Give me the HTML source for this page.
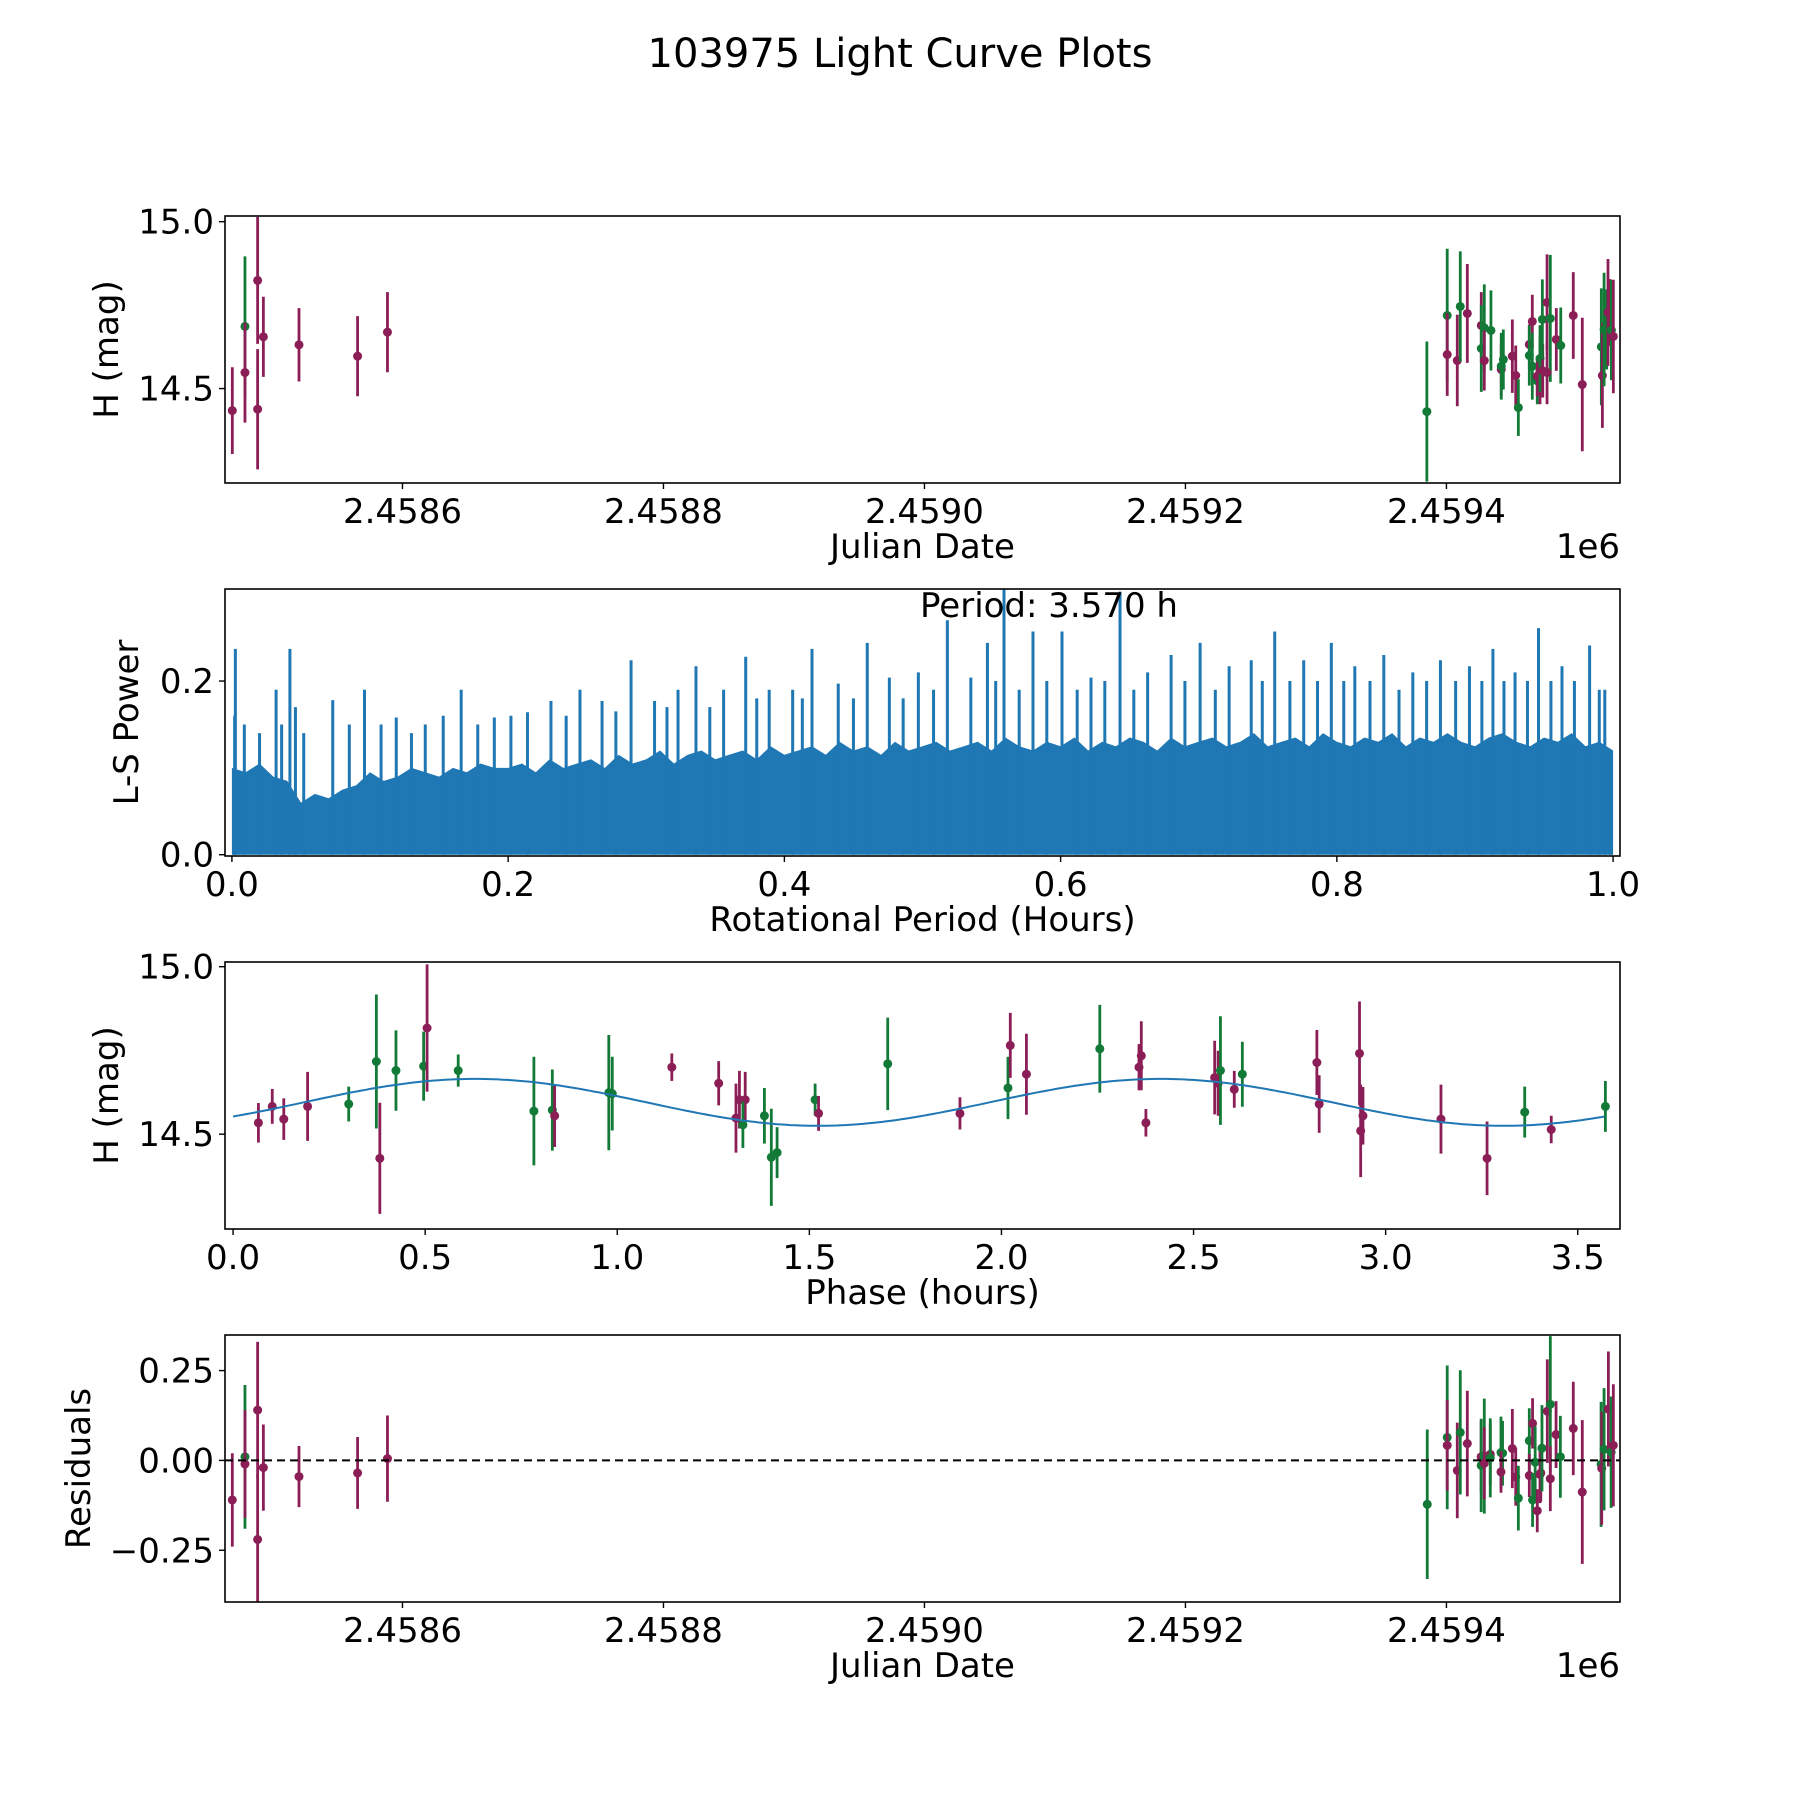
<!DOCTYPE html>
<html><head><meta charset="utf-8"><style>
html,body{margin:0;padding:0;background:#fff;}
svg{display:block;font-family:"DejaVu Sans","Liberation Sans",sans-serif;}
</style></head><body>
<svg id="fig" width="1800" height="1800" viewBox="0 0 1800 1800" xmlns="http://www.w3.org/2000/svg">
<rect x="0" y="0" width="1800" height="1800" fill="#fff"/>
<text x="900" y="67" font-size="40" text-anchor="middle">103975 Light Curve Plots</text>
</svg>
<script>
// ---------- data (JD offsets are days relative to 2459000) ----------
const lcJd    = [-530.4,-520.7,-520.7,-511,-511,-506.6,-479.3,-434.4,-411.5,
  385.0,400.6,400.6,408.3,410.6,416.0,426.7,429.0,426.7,429.0,434.1,442.0,442.0,443.6,450.5,453.1,455.1,463.5,463.5,465.8,465.8,469.6,469.6,471.7,471.7,473.8,473.5,477.1,479.6,477.1,484.2,487.6,497.2,504.1,518.7,519.5,520.8,522.8,523.8,525.4,526.4,527.9];
const lcMag   = [14.434,14.686,14.548,14.824,14.438,14.655,14.631,14.597,14.669,
  14.431,14.719,14.602,14.584,14.746,14.725,14.689,14.682,14.62,14.584,14.674,14.557,14.567,14.587,14.597,14.539,14.443,14.632,14.599,14.701,14.567,14.523,14.537,14.553,14.59,14.553,14.707,14.758,14.71,14.548,14.647,14.629,14.719,14.512,14.625,14.539,14.677,14.677,14.728,14.728,14.675,14.656];
const lcErr   = [0.13,0.21,0.15,0.19,0.18,0.12,0.11,0.12,0.12,
  0.21,0.20,0.124,0.137,0.165,0.148,0.10,0.13,0.13,0.09,0.12,0.08,0.10,0.09,0.11,0.09,0.085,0.06,0.09,0.08,0.10,0.07,0.06,0.10,0.10,0.08,0.12,0.144,0.19,0.095,0.094,0.114,0.13,0.20,0.175,0.157,0.17,0.12,0.16,0.10,0.15,0.17];
const lcBand  = ['p','g','p','p','p','p','p','p','p',
  'g','g','p','p','g','p','p','g','g','p','g','p','g','g','p','p','g','p','g','p','g','g','p','p','g','p','g','p','g','p','p','g','p','p','g','p','g','g','p','p','g','p'];

const resJd   = [-530.4,-520.7,-520.7,-511,-511,-506.6,-479.3,-434.4,-411.5,
  385.3,400.6,400.6,408.3,410.6,416.0,426.6,426.6,429.0,429.0,433.6,433.6,441.8,443.0,441.8,450.5,453.1,455.1,463.5,463.5,466.0,466.0,468.0,469.6,471.7,472.3,473.2,477.3,479.6,479.6,484.0,487.3,497.2,504.1,518.5,519.0,520.8,524.1,526.2,527.9];
const resVal  = [-0.11,0.01,-0.01,0.14,-0.22,-0.02,-0.045,-0.035,0.005,
  -0.122,0.064,0.042,-0.028,0.078,0.047,0.01,-0.014,0.012,-0.008,0.017,0.007,0.022,0.02,-0.032,0.033,-0.046,-0.105,0.055,-0.042,0.103,-0.11,-0.005,-0.14,-0.039,-0.035,0.034,0.137,0.156,-0.051,0.072,0.01,0.089,-0.088,-0.011,-0.022,0.031,0.143,0.023,0.042];
const resErr  = [0.13,0.2,0.15,0.19,0.18,0.12,0.085,0.1,0.12,
  0.208,0.2,0.126,0.133,0.173,0.147,0.1,0.13,0.16,0.1,0.085,0.11,0.1,0.09,0.058,0.11,0.08,0.09,0.09,0.06,0.07,0.075,0.1,0.06,0.08,0.08,0.12,0.144,0.19,0.09,0.093,0.114,0.13,0.2,0.174,0.157,0.17,0.16,0.155,0.17];
const resBand = ['p','g','p','p','p','p','p','p','p',
  'g','g','p','p','g','p','p','g','g','p','p','g','g','g','p','p','p','g','g','p','p','g','g','p','p','p','g','p','g','p','p','g','p','p','g','p','g','p','g','p'];

const phHours = [0.066,0.102,0.132,0.194,0.301,0.373,0.382,0.424,0.496,0.505,0.586,0.783,0.831,0.837,0.978,0.987,1.142,1.264,1.309,1.318,1.333,1.327,1.383,1.401,1.416,1.515,1.524,1.704,1.892,2.017,2.023,2.065,2.256,2.358,2.364,2.376,2.555,2.564,2.570,2.606,2.627,2.821,2.827,2.932,2.935,2.941,3.144,3.264,3.362,3.431,3.572];
const phMag   = [14.534,14.583,14.545,14.583,14.59,14.717,14.428,14.69,14.703,14.817,14.69,14.569,14.572,14.555,14.624,14.621,14.7,14.652,14.548,14.603,14.603,14.528,14.555,14.431,14.445,14.603,14.562,14.71,14.562,14.638,14.765,14.679,14.755,14.7,14.734,14.534,14.669,14.652,14.69,14.634,14.679,14.714,14.59,14.741,14.51,14.555,14.545,14.428,14.566,14.514,14.583];
const phErr   = [0.059,0.052,0.062,0.103,0.052,0.2,0.166,0.12,0.103,0.19,0.048,0.162,0.121,0.093,0.172,0.11,0.041,0.066,0.103,0.086,0.083,0.069,0.083,0.145,0.076,0.048,0.052,0.138,0.048,0.093,0.097,0.121,0.131,0.069,0.103,0.041,0.11,0.097,0.162,0.055,0.097,0.097,0.086,0.155,0.138,0.086,0.103,0.11,0.076,0.041,0.076];
const phBand  = ['p','p','p','p','g','g','p','g','g','p','g','g','g','p','g','g','p','p','p','p','p','g','g','g','g','g','p','g','p','g','p','p','g','p','p','p','p','p','g','p','g','p','p','p','p','p','p','p','g','p','g'];
const fitMean = 14.595, fitAmp = 0.07, fitPeakPhase = 0.63, fitCycle = 1.785;
const phaseMax = 3.57;

// periodogram band top sampled every 0.01 h (0.00 .. 1.00)
const lsBandTop = [0.10,0.095,0.105,0.09,0.085,0.06,0.07,0.065,0.075,0.08,
  0.095,0.085,0.09,0.1,0.095,0.09,0.1,0.095,0.105,0.1,
  0.1,0.105,0.095,0.11,0.1,0.105,0.11,0.1,0.115,0.105,
  0.11,0.12,0.105,0.115,0.12,0.11,0.115,0.12,0.11,0.125,
  0.115,0.12,0.125,0.115,0.13,0.12,0.125,0.115,0.13,0.12,
  0.125,0.13,0.12,0.125,0.13,0.12,0.135,0.125,0.12,0.13,
  0.125,0.135,0.12,0.13,0.125,0.135,0.13,0.12,0.135,0.125,
  0.13,0.135,0.125,0.13,0.14,0.125,0.13,0.135,0.125,0.14,
  0.13,0.125,0.135,0.13,0.14,0.125,0.135,0.13,0.14,0.13,
  0.125,0.135,0.14,0.13,0.125,0.135,0.13,0.14,0.125,0.13,0.12];
const lsSpikeP = [0.0025,0.002,0.009,0.02,0.032,0.036,0.042,0.046,0.052,0.073,0.085,0.096,0.108,0.119,0.13,0.14,0.153,0.166,0.178,0.19,0.202,0.214,0.231,0.242,0.252,0.268,0.278,0.289,0.306,0.315,0.323,0.336,0.346,0.356,0.372,0.38,0.389,0.406,0.413,0.42,0.439,0.45,0.46,0.476,0.486,0.497,0.508,0.518,0.535,0.547,0.553,0.559,0.57,0.58,0.59,0.601,0.612,0.622,0.632,0.643,0.653,0.663,0.68,0.69,0.701,0.712,0.722,0.738,0.746,0.755,0.766,0.776,0.786,0.796,0.805,0.813,0.824,0.834,0.845,0.855,0.865,0.875,0.886,0.896,0.905,0.913,0.921,0.929,0.938,0.946,0.955,0.963,0.972,0.983,0.99,0.994,0.998];
const lsSpikePow = [0.237,0.16,0.15,0.14,0.19,0.15,0.237,0.17,0.14,0.178,0.15,0.19,0.15,0.158,0.14,0.15,0.16,0.19,0.15,0.158,0.16,0.164,0.177,0.16,0.19,0.177,0.165,0.224,0.177,0.17,0.19,0.217,0.17,0.19,0.228,0.18,0.19,0.19,0.18,0.237,0.197,0.18,0.244,0.204,0.18,0.21,0.19,0.27,0.204,0.244,0.2,0.306,0.19,0.257,0.2,0.257,0.19,0.204,0.2,0.303,0.19,0.21,0.23,0.2,0.244,0.19,0.217,0.224,0.2,0.257,0.2,0.224,0.2,0.244,0.2,0.217,0.2,0.23,0.19,0.21,0.2,0.224,0.2,0.217,0.2,0.237,0.2,0.21,0.2,0.261,0.2,0.217,0.2,0.241,0.19,0.19,0.12];

const jdTicks = [-400,-200,0,200,400];
const jdTickLabels = ['2.4586','2.4588','2.4590','2.4592','2.4594'];
const magTicks = [15.0,14.5], magTickLabels = ['15.0','14.5'];
const lsXTicks = [0,0.2,0.4,0.6,0.8,1.0], lsXLabels = ['0.0','0.2','0.4','0.6','0.8','1.0'];
const lsYTicks = [0,0.2], lsYLabels = ['0.0','0.2'];
const phXTicks = [0,0.5,1,1.5,2,2.5,3,3.5], phXLabels = ['0.0','0.5','1.0','1.5','2.0','2.5','3.0','3.5'];
const resYTicks = [0.25,0,-0.25], resYLabels = ['0.25','0.00','\u22120.25'];

// ---------- drawing ----------
const NS='http://www.w3.org/2000/svg';
const svg=document.getElementById('fig');
const COL={p:'#8b1e56',g:'#127a36'};
const L=225,R=1620,H=267,FS=34;
function mk(tag,attrs,parent){const e=document.createElementNS(NS,tag);for(const k in attrs)e.setAttribute(k,attrs[k]);(parent||svg).appendChild(e);return e;}
function lin(d0,d1,r0,r1){return v=>r0+(v-d0)/(d1-d0)*(r1-r0);}

function axesFrame(g,top,name){
  const f=mk('rect',{x:L,y:top,width:R-L,height:H,fill:'none',stroke:'#000','stroke-width':1.6},g);
  
  
}
function xTicks(g,top,sx,ticks,labels,name){
  ticks.forEach((t,i)=>{const x=sx(t);
    const l=mk('line',{x1:x,x2:x,y1:top+H,y2:top+H+6,stroke:'#000','stroke-width':1.4},g);
    
    
    const tx=mk('text',{x:x,y:top+H+40,'font-size':FS,'text-anchor':'middle'},g);tx.textContent=labels[i];
    
    
  });
}
function yTicks(g,top,sy,ticks,labels,name){
  ticks.forEach((t,i)=>{const y=sy(t);
    const l=mk('line',{x1:L-6,x2:L,y1:y,y2:y,stroke:'#000','stroke-width':1.4},g);
    
    
    const tx=mk('text',{x:L-11,y:y+12,'font-size':FS,'text-anchor':'end'},g);tx.textContent=labels[i];
    
    
  });
}
function labels(g,top,xl,yl,ylx,name){
  const a=mk('text',{x:(L+R)/2,y:top+H+75,'font-size':FS,'text-anchor':'middle'},g);a.textContent=xl;
  
  
  const cy=top+H/2;
  const b=mk('text',{x:ylx,y:cy,'font-size':FS,'text-anchor':'middle',transform:`rotate(-90 ${ylx} ${cy})`},g);b.textContent=yl;
  
  
}
function errPoints(g,xs,ys,es,bands,sx,sy,name){
  xs.forEach((xv,i)=>{const x=sx(xv),c=COL[bands[i]];
    const l=mk('line',{x1:x,x2:x,y1:sy(ys[i]-es[i]),y2:sy(ys[i]+es[i]),stroke:c,'stroke-width':2.8},g);
    
    
    const d=mk('circle',{cx:x,cy:sy(ys[i]),r:4.5,fill:c},g);
    
    
  });
}
function clip(id,top){const cp=mk('clipPath',{id:id});mk('rect',{x:L,y:top,width:R-L,height:H},cp);}

// Panel 1: light curve
(function(){
  const top=216;const g=mk('g',{});
  const sx=lin(-536,533,L,R), sy=lin(14.217,15.017,top+H,top);
  clip('c1',top);
  const pg=mk('g',{'clip-path':'url(#c1)'},g);
  errPoints(pg,lcJd,lcMag,lcErr,lcBand,sx,sy,'light-curve');
  axesFrame(g,top,'light-curve');
  xTicks(g,top,sx,jdTicks,jdTickLabels,'light-curve');
  yTicks(g,top,sy,magTicks,magTickLabels,'light-curve');
  labels(g,top,'Julian Date','H (mag)',118,'light-curve');
  const o=mk('text',{x:R,y:top+H+75,'font-size':FS,'text-anchor':'end'},g);o.textContent='1e6';
  
  
})();

// Panel 2: periodogram
(function(){
  const top=589;const g=mk('g',{});
  const sx=lin(-0.005,1.005,L,R), sy=lin(-0.0015,0.306,top+H,top);
  clip('c2',top);
  const pg=mk('g',{'clip-path':'url(#c2)'},g);
  const n=lsBandTop.length;
  let pts=[[sx(0),sy(0)]];
  lsBandTop.forEach((v,i)=>{const p=i/(n-1);pts.push([sx(p),sy(v)]);});
  pts.push([sx(1),sy(0)]);
  const band=mk('polygon',{points:pts.map(p=>p[0].toFixed(1)+','+p[1].toFixed(1)).join(' '),fill:'#1f77b4'},pg);
  
  
  lsSpikeP.forEach((p,i)=>{
    const l=mk('line',{x1:sx(p),x2:sx(p),y1:sy(0),y2:sy(lsSpikePow[i]),stroke:'#1f77b4','stroke-width':3},pg);
    
    
  });
  axesFrame(g,top,'periodogram');
  xTicks(g,top,sx,lsXTicks,lsXLabels,'periodogram');
  yTicks(g,top,sy,lsYTicks,lsYLabels,'periodogram');
  labels(g,top,'Rotational Period (Hours)','L-S Power',138,'periodogram');
  const t=mk('text',{x:1049,y:617,'font-size':FS,'text-anchor':'middle'},g);t.textContent='Period: 3.570 h';
  
  
})();

// Panel 3: phased curve
(function(){
  const top=962;const g=mk('g',{});
  const sx=lin(-0.021,3.61,L,R), sy=lin(14.217,15.014,top+H,top);
  clip('c3',top);
  const pg=mk('g',{'clip-path':'url(#c3)'},g);
  errPoints(pg,phHours,phMag,phErr,phBand,sx,sy,'phase');
  let d='';
  for(let i=0;i<=300;i++){const ph=i/300*phaseMax;
    const m=fitMean+fitAmp*Math.cos(2*Math.PI*(ph-fitPeakPhase)/fitCycle);
    d+=(i?'L':'M')+sx(ph).toFixed(1)+','+sy(m).toFixed(1);}
  const c=mk('path',{d:d,fill:'none',stroke:'#1f77b4','stroke-width':2},pg);
  
  
  axesFrame(g,top,'phase');
  xTicks(g,top,sx,phXTicks,phXLabels,'phase');
  yTicks(g,top,sy,magTicks,magTickLabels,'phase');
  labels(g,top,'Phase (hours)','H (mag)',118,'phase');
})();

// Panel 4: residuals
(function(){
  const top=1335;const g=mk('g',{});
  const sx=lin(-536,533,L,R), sy=lin(-0.394,0.349,top+H,top);
  clip('c4',top);
  const pg=mk('g',{'clip-path':'url(#c4)'},g);
  errPoints(pg,resJd,resVal,resErr,resBand,sx,sy,'residual');
  const z=mk('line',{x1:L,x2:R,y1:sy(0),y2:sy(0),stroke:'#000','stroke-width':2,'stroke-dasharray':'8,5'},pg);
  
  
  axesFrame(g,top,'residuals');
  xTicks(g,top,sx,jdTicks,jdTickLabels,'residuals');
  yTicks(g,top,sy,resYTicks,resYLabels,'residuals');
  labels(g,top,'Julian Date','Residuals',90,'residuals');
  const o=mk('text',{x:R,y:top+H+75,'font-size':FS,'text-anchor':'end'},g);o.textContent='1e6';
  
  
})();
</script>
</body></html>
